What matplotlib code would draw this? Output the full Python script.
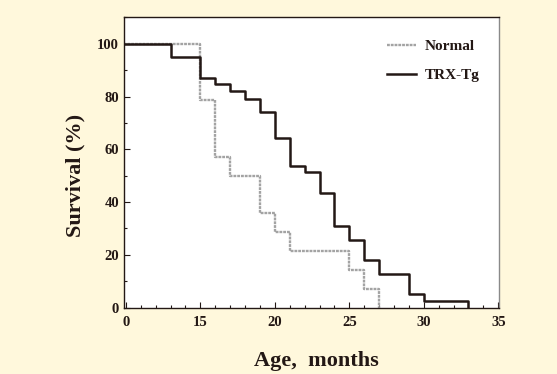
import matplotlib
matplotlib.use("Agg")
import matplotlib.pyplot as plt
from matplotlib.ticker import MultipleLocator, FixedLocator

# Data (Kaplan-Meier survival, %)
normal_t = [0, 15, 16, 17, 19, 20, 21, 25, 26, 27]
normal_s = [100, 78.6, 57.1, 50.0, 35.7, 28.6, 21.4, 14.3, 7.1, 0]
trx_t = [0, 13, 15, 16, 17, 18, 19, 20, 21, 22, 23, 24, 25, 26, 27, 29, 30, 33]
trx_s = [100, 94.9, 87.2, 84.6, 82.0, 79.0, 74.0, 64.1, 53.8, 51.3, 43.6, 30.8, 25.6, 17.9, 12.8, 5.1, 2.6, 0]
x_ticks = [10, 15, 20, 25, 30, 35]
x_labels = ["0", "15", "20", "25", "30", "35"]
y_ticks = [0, 20, 40, 60, 80, 100]

plt.rcParams['font.family'] = ['Liberation Serif', 'DejaVu Serif']
plt.rcParams['font.weight'] = 'bold'
txt = '#231815'
bg = '#FFF8DC'

fig = plt.figure(figsize=(5.57, 3.74), dpi=100, facecolor=bg)
ax = fig.add_axes([0.2226, 0.1773, 0.6733, 0.7764])
ax.set_facecolor('white')

ax.step(normal_t, normal_s, where='post', color='#a3a3a3', lw=1.7,
        linestyle=(0, (1.2, 0.4)), label='Normal')
ax.step(trx_t, trx_s, where='post', color=txt, lw=1.8, label='TRX-Tg')

ax.set_xlim(9.87, 35.05)
ax.set_ylim(0, 110)
ax.xaxis.set_major_locator(FixedLocator(x_ticks))
ax.set_xticklabels(x_labels)
ax.xaxis.set_minor_locator(MultipleLocator(1))
ax.set_yticks(y_ticks)
ax.yaxis.set_minor_locator(MultipleLocator(10))
ax.tick_params(which='both', direction='in', colors=txt, labelsize=10.5)
ax.tick_params(which='major', length=4, width=0.8)
ax.tick_params(which='minor', length=2.5, width=0.8)
ax.tick_params(axis='x', pad=6)
for lbl in ax.get_xticklabels() + ax.get_yticklabels():
    lbl.set_fontweight('bold')

for s in ['left', 'bottom', 'top']:
    ax.spines[s].set_color(txt)
    ax.spines[s].set_linewidth(1.0)
ax.spines['right'].set_color('#8a8a8a')
ax.spines['right'].set_linewidth(1.0)

leg = ax.legend(loc='upper right', bbox_to_anchor=(0.985, 0.97), frameon=False,
                prop={'weight': 'bold', 'size': 11}, handlelength=1.9,
                labelspacing=1.0, handletextpad=0.6)
for t in leg.get_texts():
    t.set_color(txt)

fig.text(75 / 557, 1 - 175 / 374, 'Survival (%)', rotation=90, ha='center',
         va='center', fontsize=16, fontweight='bold', color=txt)
fig.text(316 / 557, 1 - 361 / 374, 'Age,  months', ha='center', va='center',
         fontsize=16, fontweight='bold', color=txt)

fig.savefig('out.png', dpi=100, facecolor=bg)
